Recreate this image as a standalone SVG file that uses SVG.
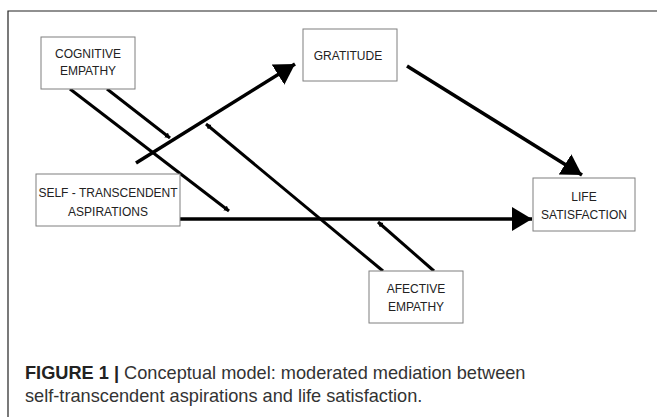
<svg xmlns="http://www.w3.org/2000/svg" width="657" height="417" viewBox="0 0 657 417">
<defs>
<style>
.box{fill:#fff;stroke:#7f7f7f;stroke-width:1}
.lbl{font-family:"Liberation Sans",Arial,sans-serif;font-size:12px;fill:#222;text-anchor:middle}
.main{stroke:#000;stroke-width:3.5;fill:none}
.mod{stroke:#000;stroke-width:3;fill:none}
.cap{font-family:"Liberation Sans",Arial,sans-serif;font-size:18.2px;fill:#333}
</style>
<marker id="big" markerUnits="userSpaceOnUse" markerWidth="22" markerHeight="26" refX="20" refY="12" orient="auto" viewBox="0 0 22 26">
<path d="M0,0 L20,12 L0,24 Z" fill="#000"/>
</marker>
<marker id="small" markerUnits="userSpaceOnUse" markerWidth="8" markerHeight="8" refX="5" refY="3" orient="auto" viewBox="0 0 8 8">
<path d="M0,0 L5,3 L0,6 Z" fill="#000"/>
</marker>
</defs>
<rect width="657" height="417" fill="#fff"/>
<path d="M8,417 V11 H657" fill="none" stroke="#222" stroke-width="1.2"/>
<g id="connectors">
<line class="main" x1="136" y1="163" x2="295" y2="64" marker-end="url(#big)"/>
<line class="main" x1="407" y1="66" x2="582" y2="175" marker-end="url(#big)"/>
<line class="main" x1="180" y1="219" x2="532" y2="219" marker-end="url(#big)"/>
<line class="mod" x1="70" y1="89" x2="229" y2="211" marker-end="url(#small)"/>
<line class="mod" x1="107" y1="89" x2="170" y2="138" marker-end="url(#small)"/>
<line class="mod" x1="383" y1="271" x2="206" y2="124" marker-end="url(#small)"/>
<line class="mod" x1="434" y1="271" x2="378" y2="222" marker-end="url(#small)"/>
</g>
<g id="cognitive">
<rect class="box" x="41" y="37" width="94" height="52"/>
<text class="lbl" x="88" y="58">COGNITIVE</text>
<text class="lbl" x="88" y="75">EMPATHY</text>
</g>
<g id="gratitude">
<rect class="box" x="303" y="29" width="94" height="52"/>
<text class="lbl" x="348" y="60">GRATITUDE</text>
</g>
<g id="self">
<rect class="box" x="36" y="174" width="144" height="52"/>
<text class="lbl" x="108" y="197">SELF - TRANSCENDENT</text>
<text class="lbl" x="108" y="216">ASPIRATIONS</text>
</g>
<g id="life">
<rect class="box" x="533" y="178" width="102" height="53"/>
<text class="lbl" x="584" y="201">LIFE</text>
<text class="lbl" x="584" y="219">SATISFACTION</text>
</g>
<g id="afective">
<rect class="box" x="369" y="271" width="94" height="52"/>
<text class="lbl" x="416" y="293">AFECTIVE</text>
<text class="lbl" x="416" y="311">EMPATHY</text>
</g>
<g id="caption">
<text class="cap" x="25" y="379"><tspan font-weight="bold" fill="#222">FIGURE 1 |</tspan> Conceptual model: moderated mediation between</text>
<text class="cap" x="25" y="402">self-transcendent aspirations and life satisfaction.</text>
</g>
</svg>
